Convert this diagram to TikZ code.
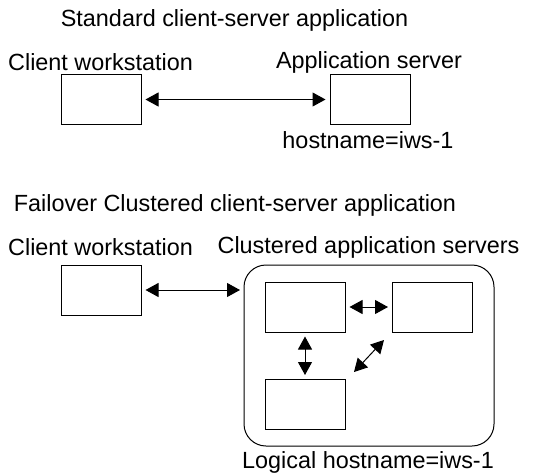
\documentclass[tikz,border=0pt]{standalone}
\usepackage{fontspec}
\setmainfont{Liberation Sans}
\usetikzlibrary{arrows.meta}
\begin{document}
\begin{tikzpicture}[x=1pt,y=-1pt,
  lbl/.style={font=\fontsize{23.4}{26}\selectfont, inner sep=0pt, anchor=center},
  box/.style={draw, line width=1pt, minimum width=80pt, minimum height=50pt, inner sep=0pt},
  tip/.style={line width=1pt, {Triangle[length=13pt 0 0,width=14pt 0 0]}-{Triangle[length=13pt 0 0,width=14pt 0 0]}},
  conn/.style={tip, shorten <=4pt, shorten >=4pt}]
\useasboundingbox (0,0) rectangle (535,474);
% top
\node[lbl] (t1) at (234.5,20) {Standard client-server application};
\node[lbl] (c1lbl) at (100.5,62) {Client workstation};
\node[lbl] (s1lbl) at (369,62) {Application server};
\node[box] (c1) at (101,99.5) {};
\node[box] (s1) at (370,99.5) {};
\draw[conn] (c1) -- (s1);
\node[lbl] (h1) at (368,140) {hostname=iws-1};
% bottom
\node[lbl] (t2) at (235,205) {Failover Clustered client-server application};
\node[lbl] (c2lbl) at (100.5,247) {Client workstation};
\node[lbl] (s2lbl) at (368.5,247) {Clustered application servers};
\node[box] (c2) at (101,290) {};
\draw[line width=1pt, rounded corners=22pt] (244,265) rectangle (494,446);
\coordinate (cl) at (244,290);
\node[box] (a) at (305,307) {};
\node[box] (b) at (432.5,307) {};
\node[box] (c) at (305,404.5) {};
\draw[conn] (c2) -- (cl);
\draw[conn] (a) -- (b);
\draw[conn] (a) -- (c);
\coordinate (d1) at (354,372);
\coordinate (d2) at (384,340);
\draw[tip] (d1) -- (d2);
\node[lbl] (h2) at (368,462) {Logical hostname=iws-1};
\end{tikzpicture}
\end{document}
